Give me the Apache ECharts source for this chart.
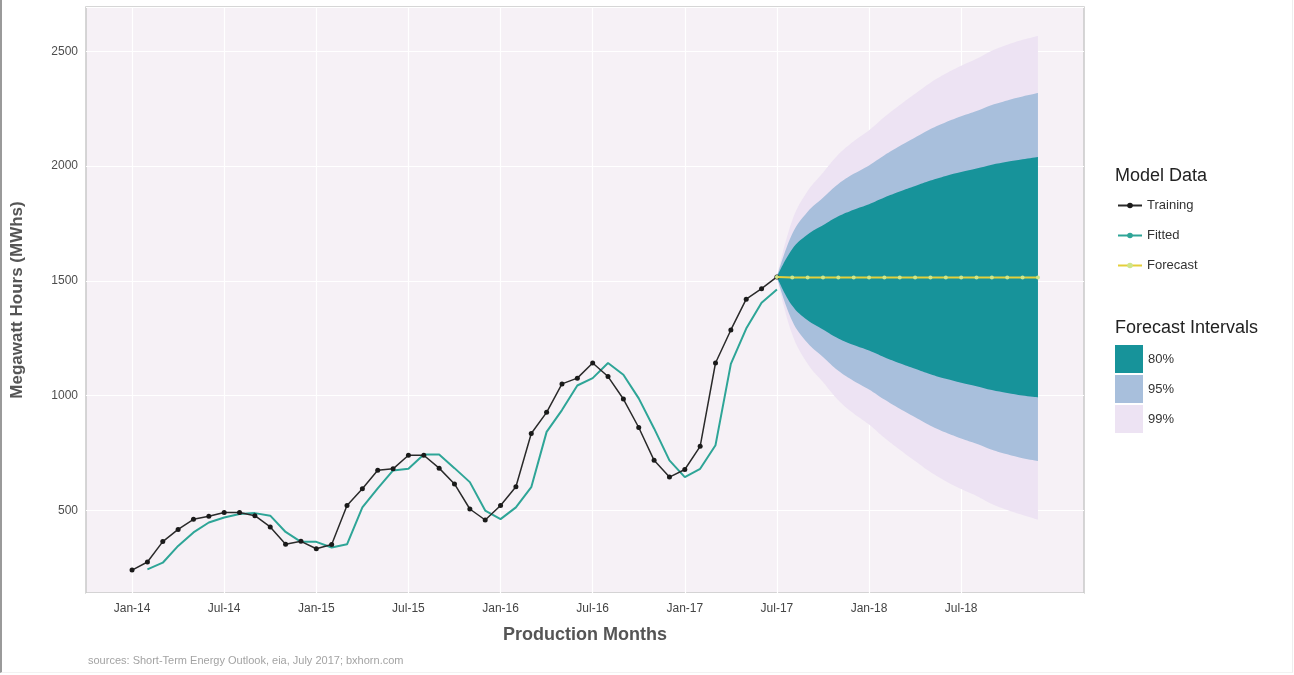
<!DOCTYPE html>
<html>
<head>
<meta charset="UTF-8" />
<title>Forecast</title>
<script src="https://cdn.jsdelivr.net/npm/echarts@6/dist/echarts.min.js"></script>
<style>
  html, body { margin: 0; padding: 0; background: #fff; }
  #main { position: absolute; left: 0; top: 0; width: 1294px; height: 675px; }
  #frame { position: absolute; left: 0; top: 0; width: 1290px; height: 672px;
           border-left: 2px solid #9a9a9a; border-right: 1px solid #eeeeee; border-bottom: 1px solid #f2f2f2; pointer-events: none; }
</style>
</head>
<body>
<div id="main"></div>
<div id="frame"></div>
<script>
// month categories on the x axis
var months = ['Oct-13','Nov-13','Dec-13',
  'Jan-14','Feb-14','Mar-14','Apr-14','May-14','Jun-14','Jul-14','Aug-14','Sep-14','Oct-14','Nov-14','Dec-14',
  'Jan-15','Feb-15','Mar-15','Apr-15','May-15','Jun-15','Jul-15','Aug-15','Sep-15','Oct-15','Nov-15','Dec-15',
  'Jan-16','Feb-16','Mar-16','Apr-16','May-16','Jun-16','Jul-16','Aug-16','Sep-16','Oct-16','Nov-16','Dec-16',
  'Jan-17','Feb-17','Mar-17','Apr-17','May-17','Jun-17','Jul-17','Aug-17','Sep-17','Oct-17','Nov-17','Dec-17',
  'Jan-18','Feb-18','Mar-18','Apr-18','May-18','Jun-18','Jul-18','Aug-18','Sep-18','Oct-18','Nov-18','Dec-18',
  'Jan-19','Feb-19','Mar-19'];
var tickLabels = ['Jan-14','Jul-14','Jan-15','Jul-15','Jan-16','Jul-16','Jan-17','Jul-17','Jan-18','Jul-18'];

// Jan-14 .. Jul-17
var training = [240,275,364,417,461,474,491,491,477,428,352,365,
  333,351,521,594,675,681,740,740,684,615,506,458,
  521,603,835,927,1051,1076,1142,1083,985,861,718,645,
  678,779,1142,1286,1420,1466,1517];
// Feb-14 .. Jul-17
var fitted = [243,272,345,404,447,469,484,488,477,406,363,
  363,338,352,513,596,674,681,743,743,684,623,499,
  462,513,601,842,937,1044,1076,1142,1091,988,857,718,
  645,681,784,1138,1292,1405,1462];
// Jul-17 .. Dec-18
var forecast = [1517,1515,1515,1515,1515,1515,1515,1515,1515,1515,1515,1515,1515,1515,1515,1515,1515,1515];
var hi80 = [1517,1639,1702,1742,1781,1810,1834,1863,1889,1913,1937,1957,1974,1989,2006,2019,2030,2040];
var lo80 = [1517,1391,1328,1288,1249,1220,1196,1167,1141,1117,1093,1073,1056,1041,1024,1011,1000,992];
var hi95 = [1517,1705,1801,1862,1922,1966,2003,2047,2087,2124,2161,2191,2217,2240,2266,2286,2303,2318];
var lo95 = [1517,1325,1229,1168,1108,1064,1027,983,943,906,869,839,813,790,764,744,727,715];
var hi99 = [1517,1764,1891,1971,2050,2108,2156,2214,2266,2315,2363,2403,2437,2467,2502,2528,2550,2567];
var lo99 = [1517,1266,1139,1059,980,922,874,816,764,715,667,627,593,563,528,502,480,460];

var FONT = '"Liberation Sans", Arial, sans-serif';

function pairs(startLabel, vals) {
  var s = months.indexOf(startLabel);
  return vals.map(function (v, i) { return [months[s + i], v]; });
}
function diff(hi, lo) {
  return hi.map(function (v, i) { return v - lo[i]; });
}
function band(name, stackId, lo, hi, color) {
  return [{
    name: name + ' base', type: 'line', stack: stackId, data: pairs('Jul-17', lo),
    symbol: 'none', smooth: 0.4, lineStyle: { opacity: 0 }, silent: true, z: 1
  }, {
    name: name, type: 'line', stack: stackId, data: pairs('Jul-17', diff(hi, lo)),
    symbol: 'none', smooth: 0.4, lineStyle: { opacity: 0, width: 0 }, color: color, itemStyle: { color: color },
    areaStyle: { color: color, opacity: 1 }, silent: true, z: 1
  }];
}

var myChart = echarts.init(document.getElementById('main'));
var series = [].concat(
  band('99%', 'b99', lo99, hi99, '#ede3f3'),
  band('95%', 'b95', lo95, hi95, '#a8bfdc'),
  band('80%', 'b80', lo80, hi80, '#17939a'),
  [{
    name: 'Fitted', type: 'line', data: pairs('Feb-14', fitted),
    color: '#2ea597', symbol: 'circle', symbolSize: 5, showSymbol: false,
    lineStyle: { width: 2, color: '#2ea597' }, z: 3
  }, {
    name: 'Training', type: 'line', data: pairs('Jan-14', training),
    color: '#1a1a1a', symbol: 'circle', symbolSize: 5,
    itemStyle: { color: '#1a1a1a' }, lineStyle: { width: 1.5, color: '#2a2a2a' }, z: 4
  }, {
    name: 'Forecast', type: 'line', data: pairs('Jul-17', forecast),
    color: '#e4cf3a', symbol: 'circle', symbolSize: 4,
    itemStyle: { color: '#cfe589' }, lineStyle: { width: 2, color: '#e4cf3a' }, z: 5
  }]
);

myChart.setOption({
  animation: false,
  textStyle: { fontFamily: FONT },
  grid: {
    left: 86, right: 210, top: 7, bottom: 82,
    show: true, backgroundColor: '#f6f1f6', borderColor: '#c9c9c9', borderWidth: 1.5
  },
  xAxis: {
    type: 'category', data: months, boundaryGap: false,
    axisLine: { show: false }, axisTick: { show: false },
    axisLabel: {
      interval: function (i, v) { return tickLabels.indexOf(v) >= 0; },
      color: '#444', fontSize: 12, margin: 10, fontFamily: FONT
    },
    splitLine: {
      show: true,
      interval: function (i, v) { return tickLabels.indexOf(v) >= 0; },
      lineStyle: { color: '#ffffff', width: 1.2 }
    },
    name: 'Production Months', nameLocation: 'middle', nameGap: 33,
    nameTextStyle: { fontSize: 18, fontWeight: 'bold', color: '#555', fontFamily: FONT }
  },
  yAxis: {
    type: 'value', min: 140, max: 2693, splitNumber: 5,
    axisLine: { show: false }, axisTick: { show: false },
    axisLabel: {
      color: '#4d4d4d', fontSize: 12, margin: 8, showMinLabel: false, showMaxLabel: false, fontFamily: FONT,
      formatter: function (v) { return String(v); }
    },
    splitLine: { lineStyle: { color: '#ffffff', width: 1.2 } },
    name: 'Megawatt Hours (MWhs)', nameLocation: 'middle', nameGap: 60,
    nameTextStyle: { fontSize: 17, fontWeight: 'bold', color: '#555', fontFamily: FONT }
  },
  legend: [{
    data: ['Training', 'Fitted', 'Forecast'],
    orient: 'vertical', left: 1117, top: 199, padding: 0, itemGap: 17, itemWidth: 24, itemHeight: 7,
    textStyle: { fontSize: 13, color: '#333', fontFamily: FONT }, selectedMode: false
  }, {
    data: ['80%', '95%', '99%'],
    orient: 'vertical', left: 1115, top: 345, padding: 0, itemGap: 2, itemWidth: 28, itemHeight: 28,
    icon: 'rect', textStyle: { fontSize: 13, color: '#333', fontFamily: FONT }, selectedMode: false
  }],
  graphic: [
    { type: 'text', left: 1115, top: 167, style: { text: 'Model Data', fontSize: 18, fill: '#222', fontFamily: FONT } },
    { type: 'text', left: 1115, top: 319, style: { text: 'Forecast Intervals', fontSize: 18, fill: '#222', fontFamily: FONT } },
    { type: 'text', left: 88, top: 655, style: { text: 'sources: Short-Term Energy Outlook, eia, July 2017; bxhorn.com', fontSize: 11, fill: '#a3a3a3', fontFamily: FONT } }
  ],
  series: series
});
</script>
</body>
</html>
